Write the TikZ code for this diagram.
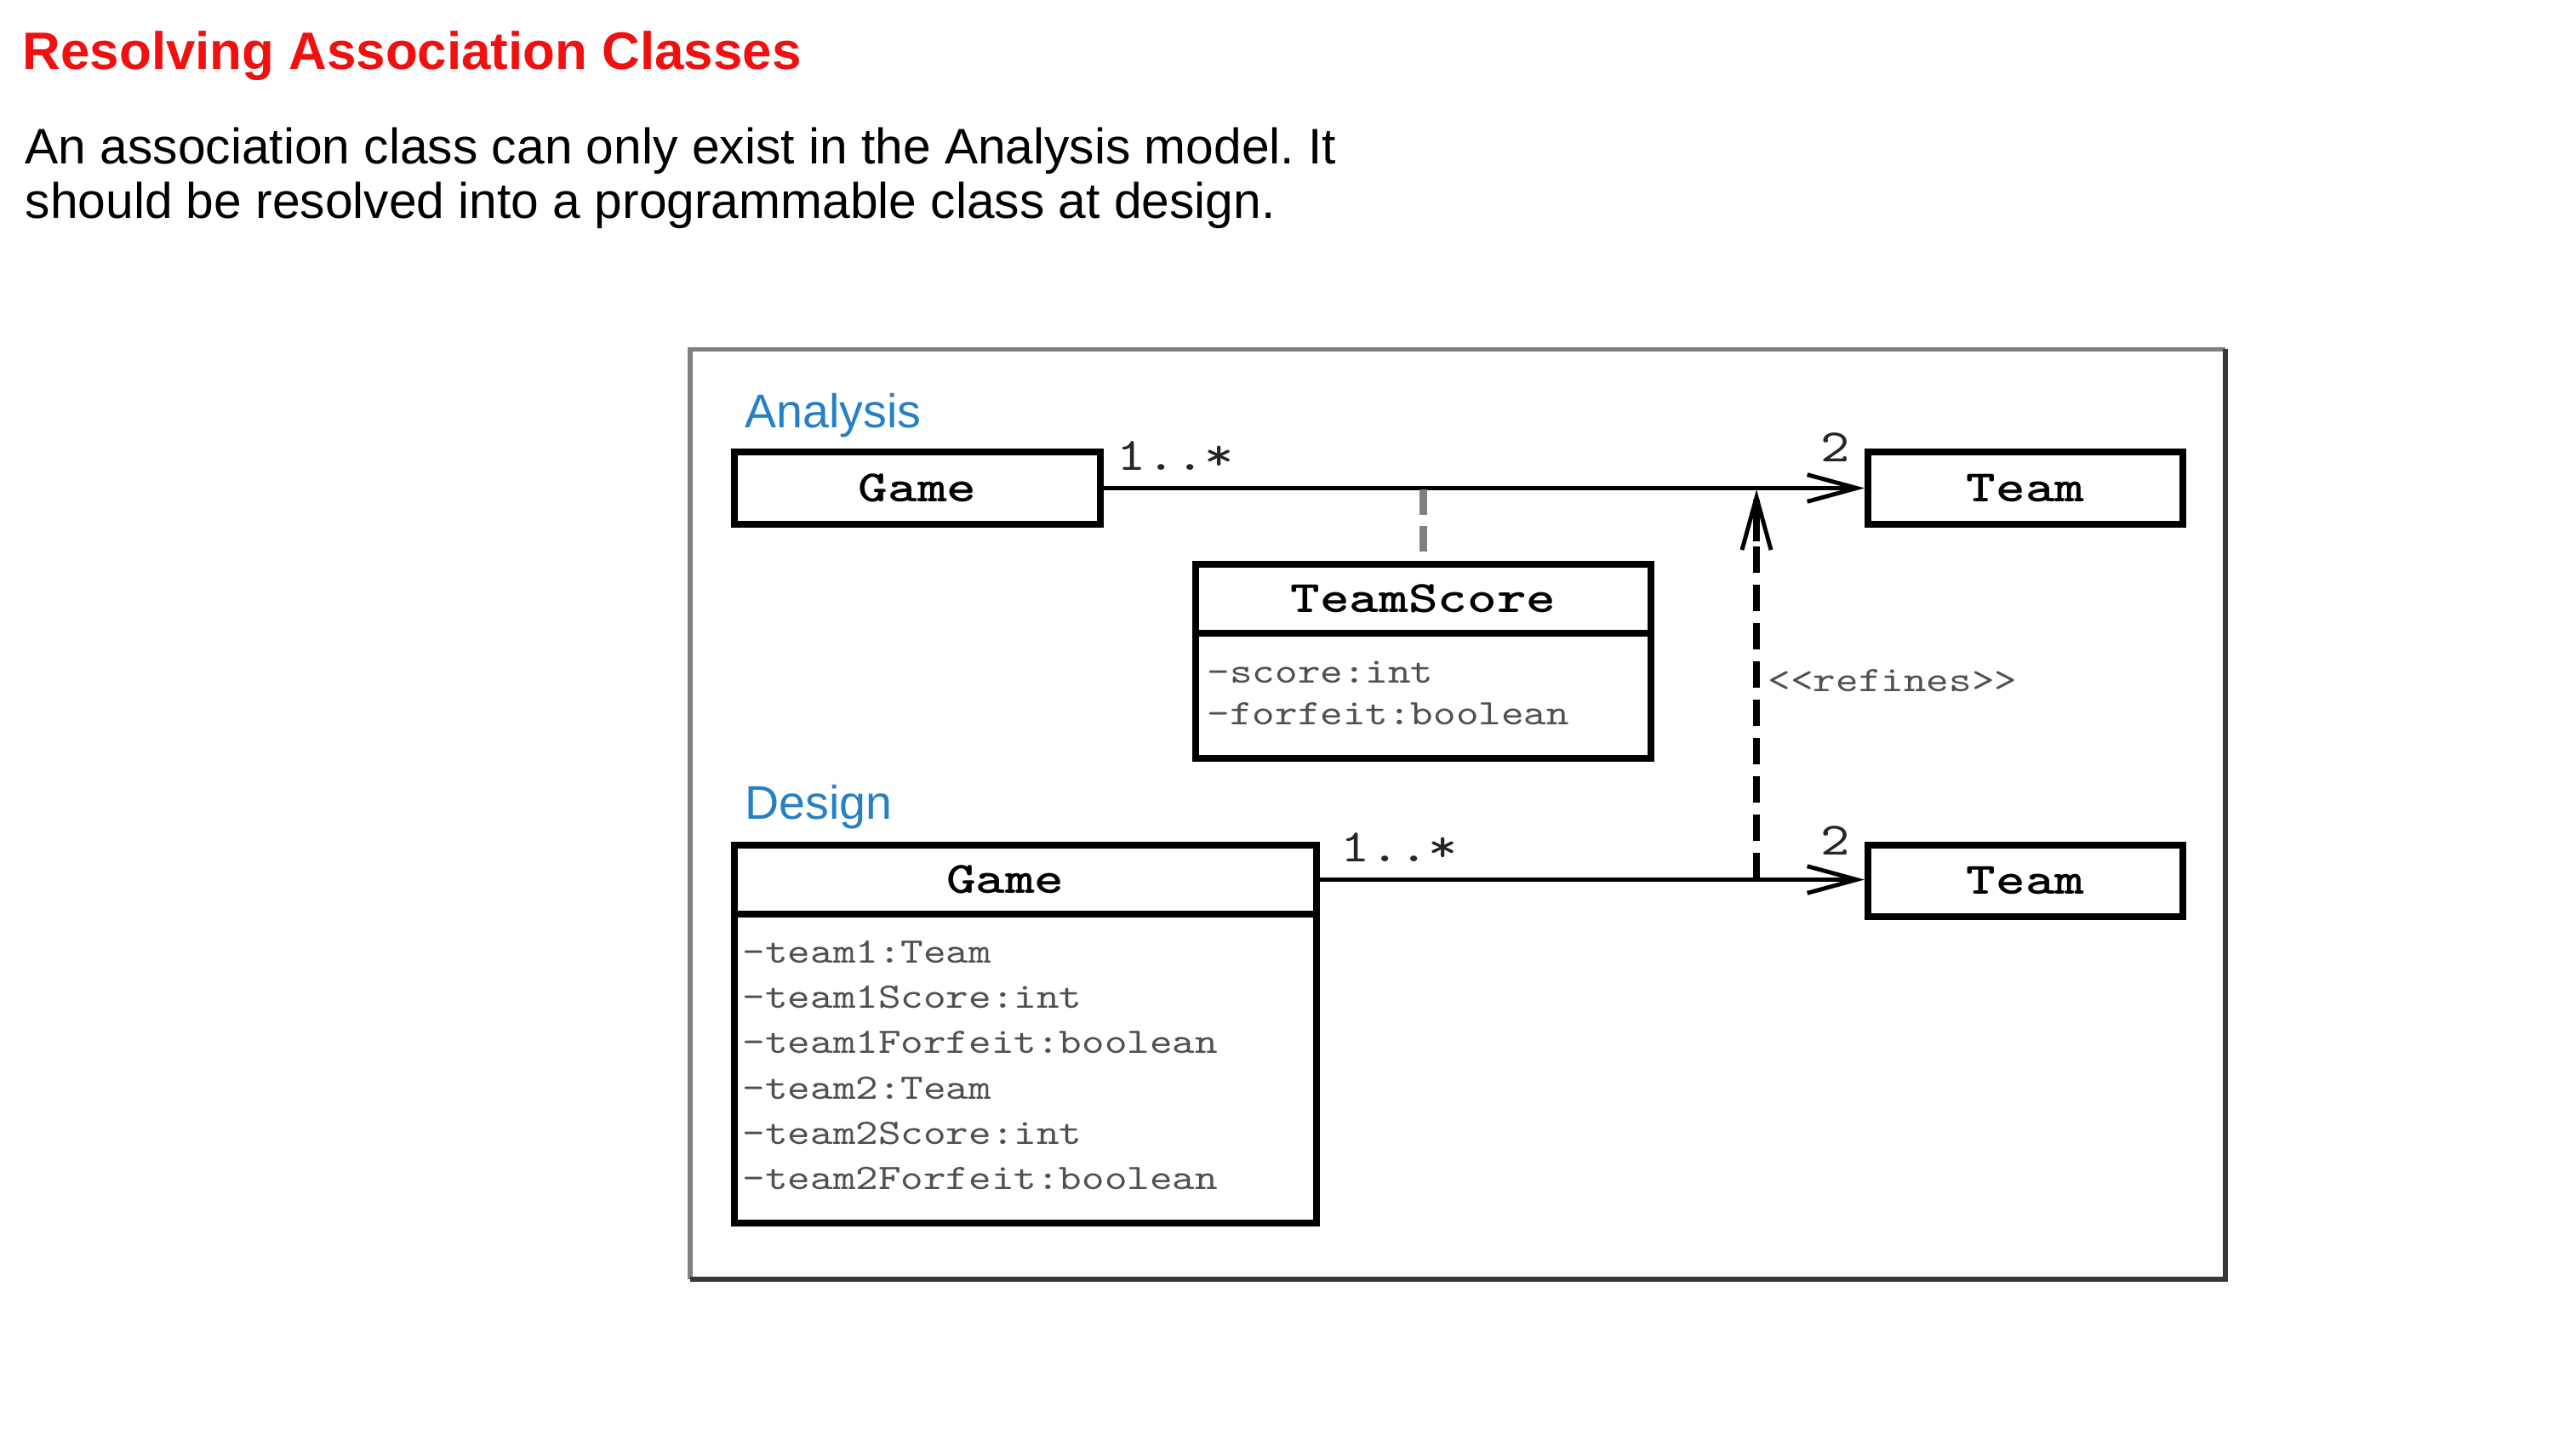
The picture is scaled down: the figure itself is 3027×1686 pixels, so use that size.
\documentclass[tikz,border=0pt]{standalone}
\usepackage{fontspec}
\setmainfont{Liberation Sans}
\newfontfamily\umlmono{lmmono10-regular.otf}[FakeStretch=1.2,Ligatures=TeXOff]
\newfontfamily\umlbold{lmmonolt10-bold.otf}[FakeStretch=1.25,Ligatures=TeXOff]
\usetikzlibrary{arrows.meta}
\definecolor{titlered}{RGB}{240,16,16}
\definecolor{sectionblue}{RGB}{38,128,198}
\definecolor{attrgray}{RGB}{80,80,80}
\frenchspacing

\begin{document}
\begin{tikzpicture}[x=0.01cm,y=-0.01cm,
  heading/.style={anchor=base west, inner sep=0pt, text=titlered,
    font=\bfseries\fontsize{17.6}{21}\selectfont},
  prose/.style={anchor=base west, inner sep=0pt,
    font=\fontsize{16.7}{19}\selectfont},
  section/.style={anchor=base west, inner sep=0pt, text=sectionblue,
    font=\fontsize{15.8}{19}\selectfont},
  classbox/.style={draw=black, line width=2.2pt, fill=white, inner sep=0pt,
    font=\umlbold\fontsize{15}{18}\selectfont},
  attr/.style={anchor=base west, inner sep=0pt, text=attrgray,
    font=\umlmono\fontsize{12}{14}\selectfont},
  mult/.style={anchor=base west, inner sep=0pt, text=black!85,
    font=\umlmono\fontsize{15.5}{18}\selectfont},
  assoc/.style={line width=1.7pt,
    -{Straight Barb[length=16.5pt,width=9pt,line width=1.4pt]}},
  refinesdash/.style={line width=2.3pt, dash pattern=on 8.8pt off 4pt},
  refinestip/.style={line width=2.3pt,
    -{Straight Barb[length=17.6pt,width=9.7pt,line width=1.4pt]}},
  linkdash/.style={draw=black!50, line width=2.5pt, dash pattern=on 8.5pt off 3.8pt},
  framelight/.style={draw=black!50, line width=1.55pt},
  framedark/.style={draw=black!78, line width=1.55pt}]

\useasboundingbox (0,0) rectangle (3027,1686);

% heading and explanation
\node[heading] (title) at (26,82) {Resolving Association Classes};
\node[prose] (intro1) at (29,193) {An association class can only exist in the Analysis model. It};
\node[prose] (intro2) at (29,257) {should be resolved into a programmable class at design.};

% diagram frame
\draw[framelight] (811,1503) -- (811,410.5) -- (2615,410.5);
\draw[framedark] (2615,410.5) -- (2615,1503) -- (811,1503);

% analysis model
\node[section] (analysis) at (875,503) {Analysis};
\node[classbox, minimum width=4.30cm, minimum height=0.85cm] (gameA) at (1078,573.5) {Game};
\node[classbox, minimum width=3.70cm, minimum height=0.85cm] (teamA) at (2380,573.5) {Team};

\node[classbox, minimum width=5.35cm, minimum height=0.81cm] (tshead) at (1672.5,703.5) {TeamScore};
\node[classbox, minimum width=5.35cm, minimum height=1.47cm] (tsbody) at (1672.5,817.5) {};
\node[attr] (tsscore) at (1418,803) {-score:int};
\node[attr] (tsforfeit) at (1418,852) {-forfeit:boolean};

\draw[assoc] (gameA.east) -- (teamA.west);
\node[mult] (multA1) at (1312,553) {1..*};
\node[mult] (multA2) at (2139,543) {2};

\coordinate (linkA) at (1672.5,575);
\draw[linkdash] (linkA) -- (tshead.north);

% design model
\node[section] (design) at (875,963) {Design};
\node[classbox, minimum width=6.84cm, minimum height=0.81cm] (gameDhead) at (1205,1033.5) {Game\hspace*{13.5pt}};
\node[classbox, minimum width=6.84cm, minimum height=3.63cm] (gameDbody) at (1205,1255.5) {};
\node[classbox, minimum width=3.70cm, minimum height=0.84cm] (teamD) at (2380,1035) {Team};

\node[attr] (gd1) at (872,1132) {-team1:Team};
\node[attr] (gd2) at (872,1185) {-team1Score:int};
\node[attr] (gd3) at (872,1238) {-team1Forfeit:boolean};
\node[attr] (gd4) at (872,1291) {-team2:Team};
\node[attr] (gd5) at (872,1344) {-team2Score:int};
\node[attr] (gd6) at (872,1397) {-team2Forfeit:boolean};

\draw[assoc] (gameDhead.east) -- (gameDhead.east -| teamD.west);
\node[mult] (multD1) at (1575,1013) {1..*};
\node[mult] (multD2) at (2139,1005) {2};

% refinement dependency from design back to analysis
\coordinate (refBottom) at (2064,1033);
\coordinate (refHead) at (2064,636);
\coordinate (refTip) at (2064,575);
\draw[refinesdash] (refBottom) -- (refHead);
\draw[refinestip] (refHead) -- (refTip);
\node[attr] (refines) at (2077,813) {<<refines>>};

\end{tikzpicture}
\end{document}
